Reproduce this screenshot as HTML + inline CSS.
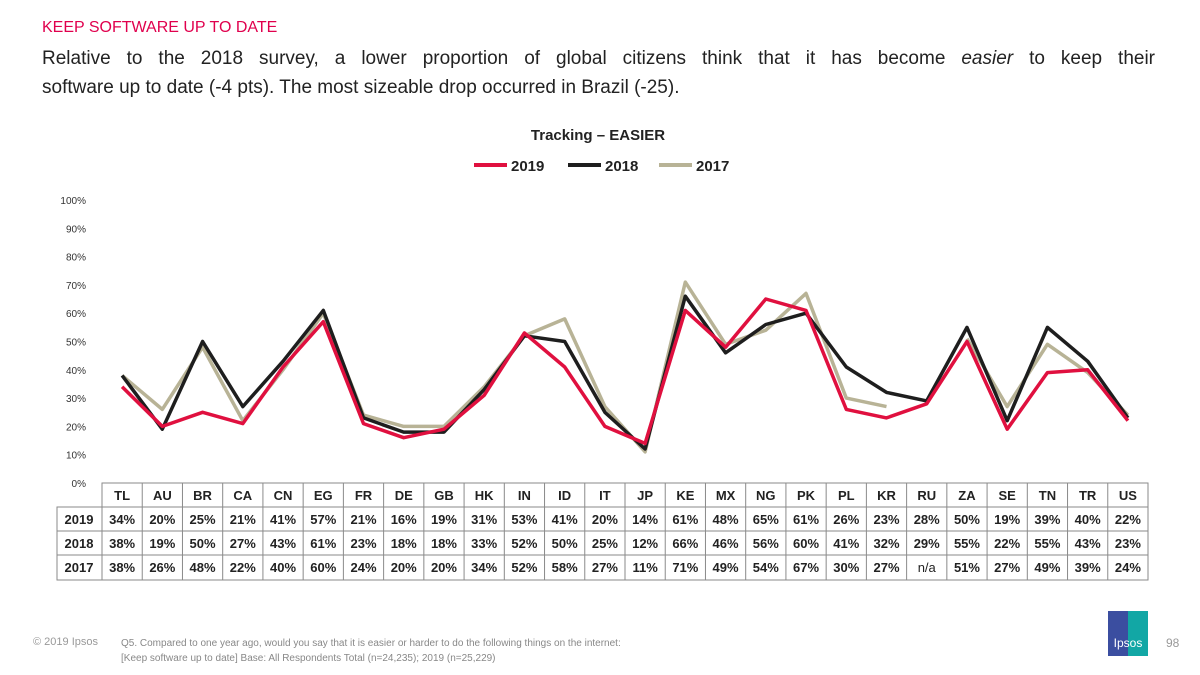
<!DOCTYPE html>
<html><head><meta charset="utf-8">
<style>
body{margin:0;width:1200px;height:675px;background:#fff;font-family:"Liberation Sans",sans-serif;position:relative;overflow:hidden}
.h{position:absolute;left:42px;top:19px;color:#e0004d;font-size:16px}
.p{position:absolute;left:42px;width:1113px;font-size:19px;line-height:29px;color:#222}
.p1{top:44px;text-align:justify;text-align-last:justify}
.p2{top:73px}
svg{position:absolute;left:0;top:0}
</style></head><body>
<div class="h">KEEP SOFTWARE UP TO DATE</div>
<div class="p p1">Relative to the 2018 survey, a lower proportion of global citizens think that it has become <i>easier</i> to keep their</div>
<div class="p p2">software up to date (-4 pts). The most sizeable drop occurred in Brazil (-25).</div>
<svg id="c" width="1200" height="675"></svg>
<script>
const categories=["TL","AU","BR","CA","CN","EG","FR","DE","GB","HK","IN","ID","IT","JP","KE","MX","NG","PK","PL","KR","RU","ZA","SE","TN","TR","US"];
const s2019=[34,20,25,21,41,57,21,16,19,31,53,41,20,14,61,48,65,61,26,23,28,50,19,39,40,22];
const s2018=[38,19,50,27,43,61,23,18,18,33,52,50,25,12,66,46,56,60,41,32,29,55,22,55,43,23];
const s2017=[38,26,48,22,40,60,24,20,20,34,52,58,27,11,71,49,54,67,30,27,null,51,27,49,39,24];
const seriesNames=["2019","2018","2017"];
const yTicks=[0,10,20,30,40,50,60,70,80,90,100];
const colors=["#e0103f","#1e1e1e","#b8b396"];
const NS="http://www.w3.org/2000/svg";
const svg=document.getElementById('c');
const x0=102,x1=1148,cw=(x1-x0)/categories.length;
const y=v=>483-v*2.83;
const x=i=>x0+cw*(i+0.5);
function el(t,a,txt){const e=document.createElementNS(NS,t);for(const k in a)e.setAttribute(k,a[k]);if(txt!=null)e.textContent=txt;svg.appendChild(e);return e;}
let t=el('text',{x:598,y:140,'font-size':15,'font-weight':'bold','text-anchor':'middle',fill:'#222'},'Tracking – EASIER');


const lx=[474,568,659];
seriesNames.forEach((n,i)=>{
 const g=el('g',{});
 
 
 const l=document.createElementNS(NS,'line');l.setAttribute('x1',lx[i]);l.setAttribute('x2',lx[i]+33);l.setAttribute('y1',165);l.setAttribute('y2',165);l.setAttribute('stroke',colors[i]);l.setAttribute('stroke-width',4);g.appendChild(l);
 const tx=document.createElementNS(NS,'text');tx.setAttribute('x',lx[i]+37);tx.setAttribute('y',171);tx.setAttribute('font-size',15);tx.setAttribute('font-weight','bold');tx.setAttribute('fill','#222');tx.textContent=n;g.appendChild(tx);
});
yTicks.forEach(v=>{
 const e=el('text',{x:86,y:y(v)+4,'font-size':10,'text-anchor':'end',fill:'#333'},v+'%');
 
 
});
const data=[s2019,s2018,s2017];
[2,1,0].forEach(si=>{
 let d='',pen=false;
 data[si].forEach((v,i)=>{if(v==null){pen=false;return;}d+=(pen?'L':'M')+x(i).toFixed(1)+','+y(v).toFixed(1);pen=true;});
 const p=el('path',{d:d,fill:'none',stroke:colors[si],'stroke-width':3.5,'stroke-linejoin':'round'});
 
 
});
const rows=[483,507,531,555,580];
el('rect',{x:x0,y:483,width:x1-x0,height:24,fill:'none',stroke:'#8a8a8a'});
el('rect',{x:57,y:507,width:x1-57,height:73,fill:'none',stroke:'#8a8a8a'});
[531,555].forEach(r=>el('line',{x1:57,x2:x1,y1:r,y2:r,stroke:'#8a8a8a'}));
for(let i=0;i<=categories.length;i++)el('line',{x1:x0+cw*i,x2:x0+cw*i,y1:483,y2:580,stroke:'#8a8a8a'});
categories.forEach((c,i)=>{
 const e=el('text',{x:x(i),y:500,'font-size':13,'font-weight':'bold','text-anchor':'middle',fill:'#222'},c);
 
 
});
seriesNames.forEach((n,si)=>{
 const ry=rows[si+1]+17;
 const e=el('text',{x:79,y:ry,'font-size':13,'font-weight':'bold','text-anchor':'middle',fill:'#222'},n);
 
 
 data[si].forEach((v,i)=>{
  const c=el('text',{x:x(i),y:ry,'font-size':13,'font-weight':v==null?'normal':'bold','text-anchor':'middle',fill:'#222'},v==null?'n/a':v+'%');
  
  
 });
});
</script>
<div style="position:absolute;left:33px;top:636px;font-size:11px;color:#999">© 2019 Ipsos</div>
<div style="position:absolute;left:121px;top:636px;font-size:10px;line-height:15px;color:#888">Q5. Compared to one year ago, would you say that it is easier or harder to do the following things on the internet:<br>[Keep software up to date] Base: All Respondents Total (n=24,235); 2019 (n=25,229)</div>
<div style="position:absolute;left:1108px;top:611px;width:40px;height:45px;background:linear-gradient(90deg,#3b4ea0 50%,#12a7a5 50%);color:#fff;font-size:12px;text-align:center;line-height:64px">Ipsos</div>
<div style="position:absolute;left:1166px;top:636px;font-size:12px;color:#999">98</div>
</body></html>
